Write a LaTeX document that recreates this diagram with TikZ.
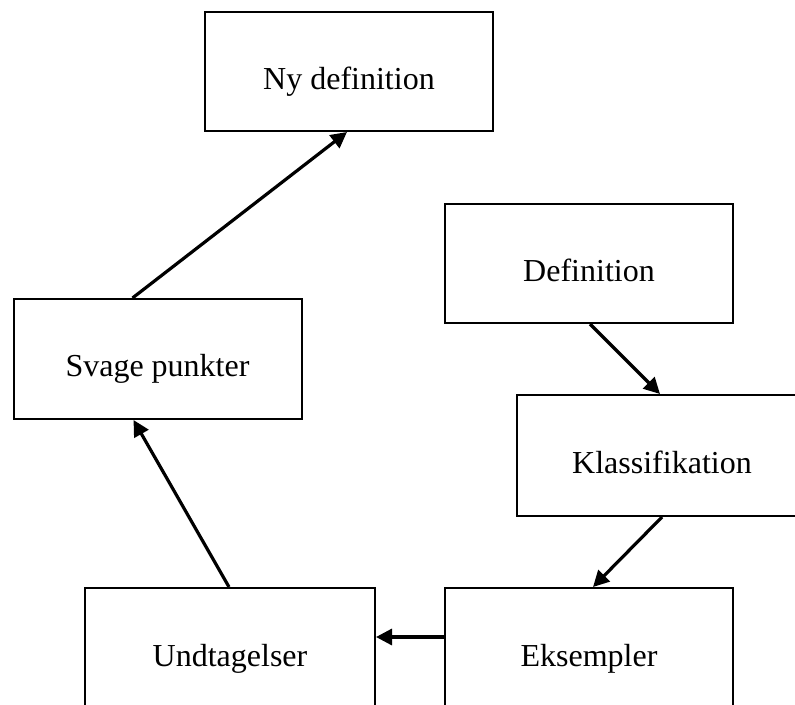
\documentclass[tikz,border=0pt]{standalone}
\usepackage{fontspec}
\setmainfont{Liberation Serif}
\usetikzlibrary{arrows.meta}
\begin{document}
\begin{tikzpicture}[x=1pt,y=-1pt,
  box/.style={draw=black,line width=2pt,rectangle,minimum width=288pt,minimum height=119pt,inner sep=0pt,font=\fontsize{32}{38}\selectfont,text height=35pt,text depth=0pt},
  conn/.style={line width=3.2pt,-{Triangle[length=16pt,width=16pt]}}]
\useasboundingbox (0,0) rectangle (795,704);
\clip (0,0) rectangle (795,704);
\node[box] (ny) at (349,71.5) {Ny definition};
\node[box] (def) at (589,263.5) {Definition};
\node[box,minimum height=120pt] (svage) at (157.5,359) {Svage punkter};
\node[box,minimum width=290pt,minimum height=121pt] (klas) at (662,455.5) {Klassifikation};
\node[box,minimum width=290pt,minimum height=121pt] (undt) at (230,648.5) {Undtagelser};
\node[box,minimum height=121pt] (eks) at (589,648.5) {Eksempler};
\draw[conn] ([xshift=120pt]svage.north west) -- ([xshift=-2pt]ny.south);
\draw[conn] ([xshift=1pt]def.south) -- ([xshift=-2pt]klas.north);
\draw[conn] (klas.south) -- ([xshift=4pt]eks.north);
\draw[conn] ([yshift=11.5pt]eks.west) -- ([yshift=11.5pt]undt.east);
\draw[conn] ([xshift=-1pt]undt.north) -- ([xshift=121pt]svage.south west);
\end{tikzpicture}
\end{document}
